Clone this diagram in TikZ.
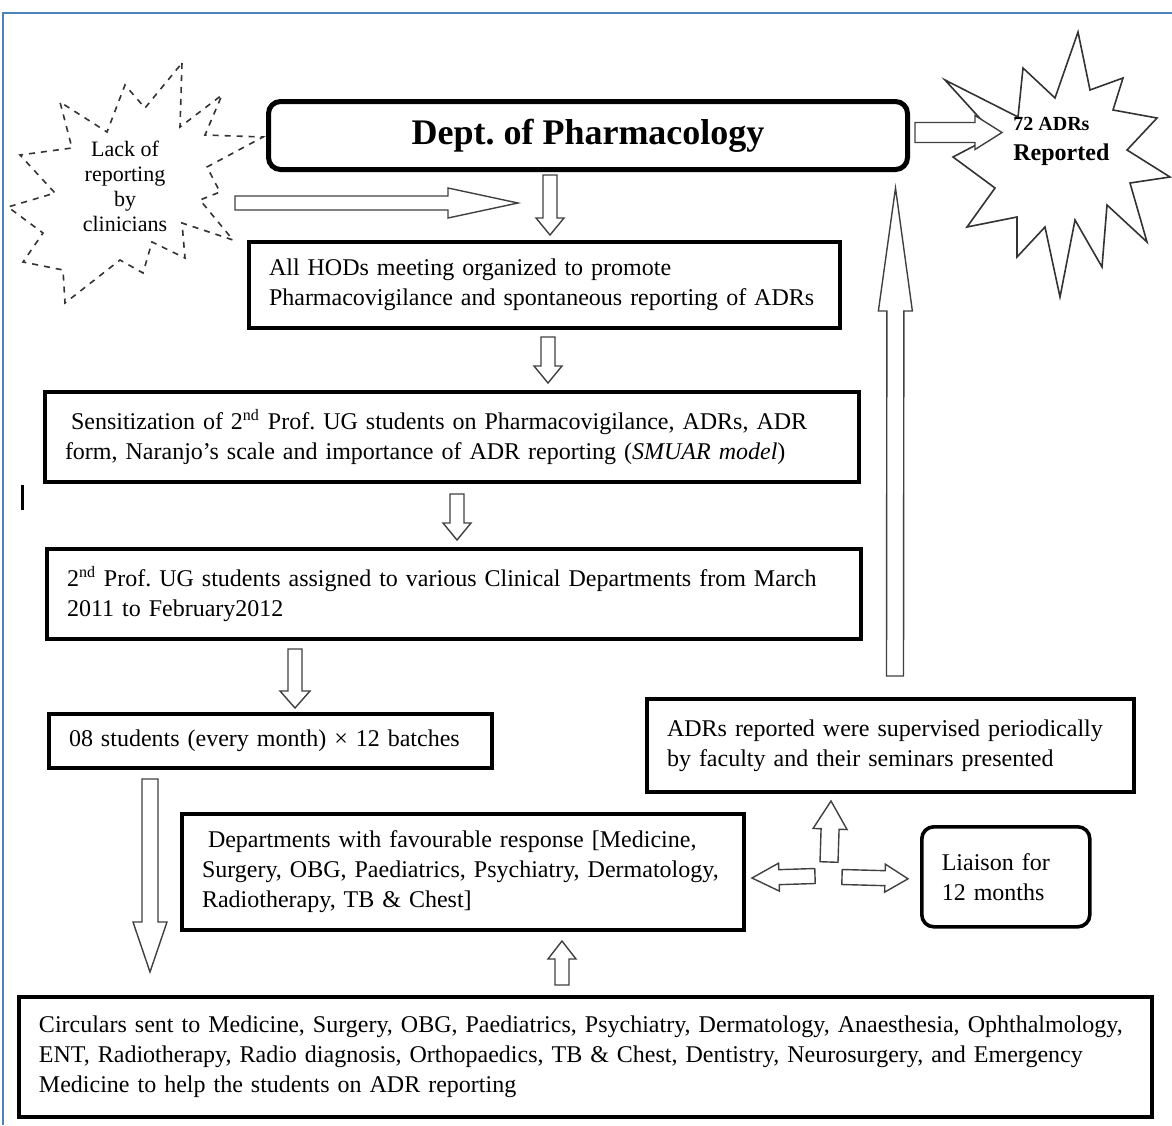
\documentclass[tikz,border=0pt]{standalone}
\usepackage{fontspec}
\setmainfont{Liberation Serif}
\usepackage{tikz}
\usetikzlibrary{calc,positioning}
\definecolor{FrameBlue}{HTML}{4F81BD}
\tikzset{
  stepbox/.style={draw, line width=2pt, align=left, inner xsep=10pt, inner ysep=4pt,
    anchor=north west, font=\fontsize{12}{15}\selectfont},
  headbox/.style={draw, line width=2.5pt, rounded corners=6pt, align=center,
    anchor=north west, font=\fontsize{18}{21}\selectfont\bfseries},
  liaisonbox/.style={stepbox, line width=1.8pt, rounded corners=6pt},
  burst/.style={draw=black!80, line width=0.8pt},
  burstlabel/.style={align=center, inner sep=0pt},
  hollow/.style n args={3}{draw=black!75, line width=0.7pt, fill=white,
    to path={let \p1=(\tikztostart), \p2=(\tikztotarget),
      \p3=($(\p2)!#3!(\p1)$) in
      ($(\p1)!#1!90:(\p2)$) -- ($(\p3)!#1!90:(\p2)$) -- ($(\p3)!#2!90:(\p2)$)
      -- (\p2) -- ($(\p3)!#2!-90:(\p2)$) -- ($(\p3)!#1!-90:(\p2)$)
      -- ($(\p1)!#1!-90:(\p2)$) -- cycle}}
}

\begin{document}
\frenchspacing
\begin{tikzpicture}[x=0.5pt, y=-0.5pt]
  \useasboundingbox (0,0) rectangle (1172,1125);
  \draw[FrameBlue, line width=1.2pt] (3,1125) -- (3,13) -- (1172,13);
  \draw[line width=1.5pt] (22,485) -- (22,510);

  \draw[burst, dashed] (182,63) -- (180,127) -- (222,95) -- (205,135) -- (263,137) -- (207,167)
    -- (220,192) -- (200,200) -- (233,240) -- (182,223) -- (185,258) -- (152,242) -- (143,273)
    -- (120,260) -- (65,303) -- (63,270) -- (23,262) -- (43,233) -- (8,207) -- (55,193)
    -- (20,155) -- (72,148) -- (60,102) -- (107,132) -- (125,85) -- (145,108) -- cycle;
  \node[burstlabel, font=\fontsize{11}{12.5}\selectfont] (lack) at (125,186)
    {Lack of\\reporting\\by\\clinicians};

  \draw[burst] (1078,32) -- (1055,98) -- (1023,68) -- (1018,117) -- (945,80) -- (995,135)
    -- (953,157) -- (995,188) -- (967,227) -- (1017,217) -- (1017,257) -- (1045,227)
    -- (1060,297) -- (1075,220) -- (1102,267) -- (1107,205) -- (1147,242) -- (1130,183)
    -- (1170,177) -- (1127,150) -- (1157,118) -- (1113,110) -- (1123,78) -- (1090,90) -- cycle;
  \node[burstlabel, align=left, anchor=west, font=\fontsize{12}{15}\selectfont\bfseries]
    (reported) at (1013,141) {{\fontsize{10}{15}\selectfont 72 ADRs}\\Reported};

  \node[headbox, minimum width=319.5pt, minimum height=34pt] (dept) at (266,99)
    {Dept. of Pharmacology};
  \node[stepbox, text width=275.5pt, minimum height=43pt] (hods) at (247,240)
    {All HODs meeting organized to promote\\Pharmacovigilance and spontaneous reporting of ADRs};
  \node[stepbox, text width=387pt, minimum height=45pt] (sensitize) at (43,390)
    {\hspace*{3pt}Sensitization of 2\textsuperscript{nd} Prof. UG students on Pharmacovigilance, ADRs, ADR\\form, Naranjo’s scale and importance of ADR reporting (\textit{SMUAR model})};
  \node[stepbox, text width=387pt, minimum height=45pt] (assign) at (45,547)
    {2\textsuperscript{nd} Prof. UG students assigned to various Clinical Departments from March\\2011 to February2012};
  \node[stepbox, text width=201.5pt, minimum height=27pt] (batches) at (47,712)
    {08 students (every month) × 12 batches};
  \node[stepbox, text width=261pt, minimum height=58pt] (favour) at (180,812)
    {\hspace*{3pt}Departments with favourable response [Medicine,\\Surgery, OBG, Paediatrics, Psychiatry, Dermatology,\\Radiotherapy, TB \& Chest]};
  \node[stepbox, text width=546.5pt, minimum height=60pt] (circulars) at (17,995)
    {Circulars sent to Medicine, Surgery, OBG, Paediatrics, Psychiatry, Dermatology, Anaesthesia, Ophthalmology,\\ENT, Radiotherapy, Radio diagnosis, Orthopaedics, TB \& Chest, Dentistry, Neurosurgery, and Emergency\\Medicine to help the students on ADR reporting};
  \node[stepbox, text width=223.5pt, minimum height=46.5pt] (supervise) at (645,697)
    {ADRs reported were supervised periodically\\by faculty and their seminars presented};
  \node[liaisonbox, text width=64pt, minimum height=50pt] (liaison) at (920,825)
    {Liaison for\\12 months};

  \coordinate (lackend) at (518,203);
  \coordinate (hub) at (829,876);

  \draw[hollow={3.5pt}{7.5pt}{35pt}] ($(lack)+(110,17)$) to (lackend);
  \draw[hollow={5pt}{8.5pt}{13.5pt}] ($(dept.east)+(5,-3)$) to ($(dept.east)+(92,-3)$);
  \draw[hollow={3.5pt}{7pt}{8.5pt}] ($(hods.north |- dept.south)+(5.5,3)$) to ($(hods.north)+(5.5,-5)$);
  \draw[hollow={3.5pt}{7pt}{8.5pt}] ($(hods.south)+(3.5,7)$) to ($(sensitize.north)+(96,-7)$);
  \draw[hollow={3.5pt}{7pt}{8.5pt}] ($(sensitize.south)+(5,10)$) to ($(assign.north)+(3,-7)$);
  \draw[hollow={3.5pt}{7.5pt}{8.5pt}] ($(assign.south)+(-159,8)$) to ($(batches.north)+(24.5,-4)$);
  \draw[hollow={4pt}{8.5pt}{25pt}] ($(batches.south)+(-120.5,9)$) to ($(circulars.north)+(-435.5,-23)$);
  \draw[hollow={3.5pt}{7pt}{9pt}] ($(circulars.north)+(-23.5,-10)$) to ($(favour.south)+(99,9)$);
  \draw[hollow={3.75pt}{7pt}{13.5pt}] ($(hub)+(-14,0)$) to ($(favour.east)+(6,6)$);
  \draw[hollow={3.75pt}{7pt}{11.5pt}] ($(hub)+(13,1)$) to ($(liaison.west)+(-12,2)$);
  \draw[hollow={4.5pt}{8.5pt}{14pt}] ($(hub)+(0,-14)$) to ($(supervise.south)+(-59.5,7)$);
  \draw[hollow={4.25pt}{8.5pt}{61.5pt}] ($(supervise.north)+(4.5,-21)$) to ($(dept.south)+(307.5,16)$);
\end{tikzpicture}
\end{document}
